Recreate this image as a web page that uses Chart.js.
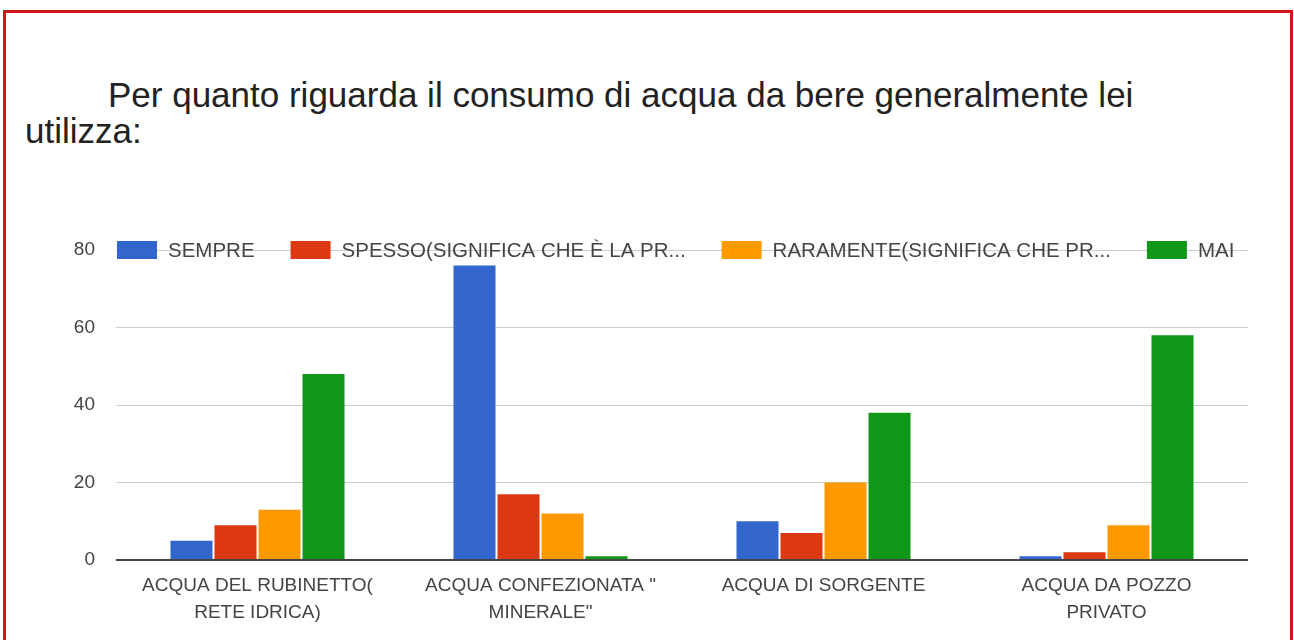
<!DOCTYPE html>
<html>
<head>
<meta charset="utf-8">
<script src="https://cdn.jsdelivr.net/npm/chart.js@4.4.1/dist/chart.umd.min.js"></script>
<style>
    body { margin: 0; background: #fff; }
    .page { position: relative; width: 1294px; height: 640px; overflow: hidden; }
    .frame {
        position: absolute; left: 3px; top: 10px; width: 1284px; height: 660px;
        border: 3px solid #d2161b; border-bottom: none;
    }
    .title {
        position: absolute; left: 25px; top: 77px;
        font-family: "Liberation Sans", Arial, sans-serif; font-size: 35px;
        line-height: 36px; color: #222;
    }
    .title .indent { padding-left: 83px; }
    .chart-box { position: absolute; left: 0; top: 0; width: 1294px; height: 640px; }
</style>
</head>
<body>
<div class="page">
    <div class="frame"></div>
    <div class="title"><span class="indent">Per quanto riguarda il consumo di acqua da bere generalmente lei</span><br>utilizza:</div>
    <div class="chart-box"><canvas id="plot"></canvas></div>
</div>
<script>
"use strict";

// categories (x axis)
const categories = [
    ['ACQUA DEL RUBINETTO(', 'RETE IDRICA)'],
    ['ACQUA CONFEZIONATA "', 'MINERALE"'],
    ['ACQUA DI SORGENTE'],
    ['ACQUA DA POZZO', 'PRIVATO']
];

// series names, as they show in the legend
const seriesNames = ['SEMPRE', 'SPESSO(SIGNIFICA CHE È LA PR...', 'RARAMENTE(SIGNIFICA CHE PR...', 'MAI'];

// values
const sempre = [5, 76, 10, 1];
const spesso = [9, 17, 7, 2];
const raramente = [13, 12, 20, 9];
const mai = [48, 1, 38, 58];

const yTicks = [0, 20, 40, 60, 80];

const colors = ['#3366cc', '#dc3912', '#ff9900', '#109618'];
const fontFamily = '"Liberation Sans", Arial, sans-serif';

// google style legend, sitting on the top grid line
const topLegend = {
    id: 'topLegend',
    afterDraw(chart) {
        const ctx = chart.ctx;
        const area = chart.chartArea;
        const y = chart.scales.y.getPixelForValue(yTicks[yTicks.length - 1]);
        let x = area.left + 1;
        ctx.save();
        ctx.font = '20.5px ' + fontFamily;
        ctx.textBaseline = 'middle';
        ctx.textAlign = 'left';
        chart.data.datasets.forEach((ds) => {
            ctx.fillStyle = ds.backgroundColor;
            ctx.fillRect(x, y - 9, 40, 18);
            ctx.fillStyle = '#444';
            ctx.fillText(ds.label, x + 51, y + 1);
            x += 51 + ctx.measureText(ds.label).width + 36;
        });
        ctx.restore();
    }
};

const seriesValues = [sempre, spesso, raramente, mai];

new Chart(document.getElementById('plot'), {
    type: 'bar',
    data: {
        labels: categories,
        datasets: seriesNames.map((name, i) => ({
            label: name,
            data: seriesValues[i],
            backgroundColor: colors[i],
            categoryPercentage: 0.622,
            barPercentage: 0.955
        }))
    },
    options: {
        responsive: true,
        maintainAspectRatio: false,
        animation: false,
        layout: { padding: { left: 0, right: 46, top: 250, bottom: 0 } },
        plugins: {
            legend: { display: false },
            tooltip: { enabled: false }
        },
        scales: {
            x: {
                grid: { display: false },
                border: { display: false },
                ticks: {
                    color: '#444',
                    font: { family: fontFamily, size: 19, lineHeight: 1.42 },
                    padding: 4,
                    maxRotation: 0,
                    autoSkip: false
                },
                afterFit: (scale) => { scale.height = 80; }
            },
            y: {
                min: 0,
                max: 80,
                afterBuildTicks: (scale) => { scale.ticks = yTicks.map(v => ({ value: v })); },
                grid: {
                    drawTicks: false,
                    color: (c) => c.tick && c.tick.value === 0 ? '#444' : '#ccc',
                    lineWidth: (c) => c.tick && c.tick.value === 0 ? 2 : 1
                },
                border: { display: false },
                ticks: {
                    color: '#444',
                    font: { family: fontFamily, size: 19 },
                    padding: 21
                },
                afterFit: (scale) => { scale.width = 116; }
            }
        }
    },
    plugins: [topLegend]
});
</script>
</body>
</html>
